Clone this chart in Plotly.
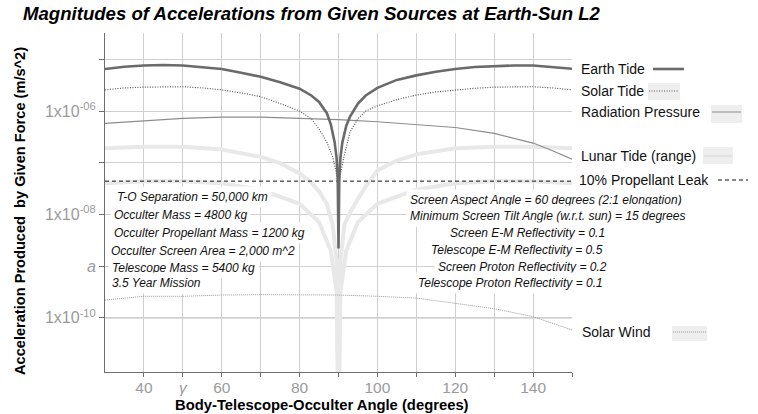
import plotly.graph_objects as go

# plot-area placement in pixels (758 x 414 canvas)
W, H = 758, 414
L, R, T, B = 105, 572, 33, 372

GRID = "#cfcfcf"
AXIS = "#6e6e6e"
TICK_TXT = "#9a9a9a"
EARTH = "#6a6a6a"
SOLAR = "#555555"
RAD = "#8c8c8c"
LUNAR = "#e8e8e8"
WIND = "#9a9a9a"
SAMPLE_BG = "#eeeeee"
FONT = "Arial, Liberation Sans, sans-serif"

# ---- data (acceleration, m/s^2) ----
earth_x = [30, 35, 40, 45, 50, 55, 60, 65, 70, 75, 80, 83, 85, 87, 88, 89, 89.5, 89.8, 90,
           90.2, 90.5, 91, 92, 93, 95, 97, 100, 105, 110, 115, 120, 125, 130, 135, 140, 145, 150]
earth_tide = [6.5e-6, 7.2e-6, 7.6e-6, 7.8e-6, 7.6e-6, 7.1e-6, 6.5e-6, 5.5e-6, 4.6e-6, 3.6e-6,
              2.7e-6, 2.0e-6, 1.5e-6, 9.1e-7, 5.6e-7, 2.5e-7, 1.26e-7, 5.0e-8, 2.2e-9,
              5.0e-8, 1.26e-7, 2.5e-7, 5.2e-7, 7.9e-7, 1.4e-6, 2.0e-6, 2.8e-6, 4.0e-6, 4.9e-6,
              5.75e-6, 6.5e-6, 7.1e-6, 7.4e-6, 7.6e-6, 7.6e-6, 7.2e-6, 6.6e-6]

solar_x = [30, 35, 40, 45, 50, 55, 60, 65, 70, 75, 80, 83, 85, 87, 88.5, 89.3, 90,
           90.7, 91.5, 93, 95, 97, 100, 105, 110, 115, 120, 125, 130, 135, 140, 145, 150]
solar_tide = [2.57e-6, 2.8e-6, 2.9e-6, 2.95e-6, 2.95e-6, 2.8e-6, 2.57e-6, 2.24e-6, 1.9e-6,
              1.4e-6, 1.0e-6, 7.1e-7, 4.5e-7, 2.5e-7, 1.3e-7, 7.1e-8, 3.5e-8,
              7.1e-8, 1.4e-7, 4.0e-7, 7.1e-7, 1.0e-6, 1.26e-6, 1.66e-6, 2.04e-6, 2.34e-6,
              2.57e-6, 2.75e-6, 2.9e-6, 2.95e-6, 2.95e-6, 2.8e-6, 2.57e-6]

rad_x = [30, 40, 50, 60, 70, 80, 90, 100, 110, 120, 130, 140, 145, 150]
rad_pressure = [5.75e-7, 6.5e-7, 7.2e-7, 7.6e-7, 7.6e-7, 7.2e-7, 6.8e-7, 6.2e-7, 5.5e-7,
                4.8e-7, 3.7e-7, 2.4e-7, 1.7e-7, 1.17e-7]

lunar_hi_x = [30, 40, 50, 60, 70, 75, 80, 83, 85, 87, 88.5, 89.5, 90,
              90.5, 91.5, 93, 95, 97, 100, 105, 110, 120, 130, 140, 150]
lunar_hi = [1.9e-7, 2.04e-7, 2.04e-7, 1.8e-7, 1.3e-7, 9.8e-8, 6.2e-8, 4.1e-8, 2.8e-8, 1.6e-8,
            6.3e-9, 1.26e-9, 1e-12, 1.26e-9, 6.3e-9, 1.1e-8, 2.0e-8, 3.5e-8, 7.1e-8, 1.1e-7,
            1.45e-7, 1.9e-7, 2.04e-7, 2.04e-7, 1.9e-7]

lunar_lo_x = [30, 40, 50, 60, 70, 80, 85, 88, 89.5, 90, 90.5, 92, 95, 100, 110, 120, 130, 140, 150]
lunar_lo = [4.0e-8, 4.4e-8, 4.4e-8, 4.0e-8, 3.0e-8, 1.6e-8, 7.1e-9, 2.0e-9, 3.2e-10, 1e-12,
            3.2e-10, 2.0e-9, 7.1e-9, 1.6e-8, 3.0e-8, 4.0e-8, 4.4e-8, 4.4e-8, 4.0e-8]

leak_x = [30, 150]
prop_leak = [4.4e-8, 4.4e-8]

wind_x = [30, 40, 50, 60, 70, 80, 90, 100, 110, 120, 130, 140, 150]
solar_wind = [2.2e-10, 2.6e-10, 2.6e-10, 2.75e-10, 2.8e-10, 2.8e-10, 2.75e-10, 2.6e-10,
              2.4e-10, 1.9e-10, 1.5e-10, 1.05e-10, 5.8e-11]

x_tickvals = [40, 50, 60, 70, 80, 90, 100, 110, 120, 130, 140, 150]
x_ticktext = ["40", "<i>γ</i>", "60", "", "80", "", "100", "", "120", "", "140", ""]
y_tickvals = [1e-10, 1e-9, 1e-8, 1e-7, 1e-6, 1e-5]
y_ticktext = ["1x10<sup>-10</sup>", "<i>a</i>", "1x10<sup>-08</sup>", "",
              "1x10<sup>-06</sup>", ""]

left_notes = [
    "T-O Separation = 50,000 km",
    "Occulter Mass = 4800 kg",
    "Occulter Propellant Mass = 1200 kg",
    "Occulter Screen Area = 2,000 m^2",
    "Telescope Mass = 5400 kg",
    "3.5 Year Mission",
]
right_notes = [
    "Screen Aspect Angle = 60 degrees (2:1 elongation)",
    "Minimum Screen Tilt Angle (w.r.t. sun) = 15 degrees",
    "Screen E-M Reflectivity = 0.1",
    "Telescope E-M Reflectivity = 0.5",
    "Screen Proton Reflectivity = 0.2",
    "Telescope Proton Reflectivity = 0.1",
]


def px(x):
    return (x - L) / (R - L)


def py(y):
    return (B - y) / (B - T)


fig = go.Figure()
fig.add_trace(go.Scatter(x=lunar_hi_x, y=lunar_hi, mode="lines",
                         line={"color": LUNAR, "width": 4}))
fig.add_trace(go.Scatter(x=lunar_lo_x, y=lunar_lo, mode="lines",
                         line={"color": LUNAR, "width": 4}))
fig.add_trace(go.Scatter(x=leak_x, y=prop_leak, mode="lines",
                         line={"color": "#111111", "width": 1, "dash": "4px,3px"}))
fig.add_trace(go.Scatter(x=wind_x, y=solar_wind, mode="lines",
                         line={"color": WIND, "width": 1, "dash": "1px,1px"}))
fig.add_trace(go.Scatter(x=rad_x, y=rad_pressure, mode="lines",
                         line={"color": RAD, "width": 1.2}))
fig.add_trace(go.Scatter(x=solar_x, y=solar_tide, mode="lines",
                         line={"color": SOLAR, "width": 1.2, "dash": "1px,1.5px"}))
fig.add_trace(go.Scatter(x=earth_x, y=earth_tide, mode="lines",
                         line={"color": EARTH, "width": 2.6}))

fig.add_hline(y=1e-10, line={"color": "#7a7a7a", "width": 1.2}, layer="below")

# parameter notes (white boxes hide the grid behind them, as in the original)
note_font = {"family": FONT, "size": 12, "color": "#111111"}
left_pos = [(113, 197), (110, 215), (110, 233), (107, 251), (108, 268), (108, 283)]
right_pos = [(406, 200), (406, 216), (446, 233), (427, 250), (434, 267), (414, 283)]
for txt, (xx, yy) in zip(left_notes + right_notes, left_pos + right_pos):
    fig.add_annotation(x=px(xx), y=py(yy), xref="paper", yref="paper", text=f"<i>{txt}</i>",
                       showarrow=False, xanchor="left", yanchor="middle", font=note_font,
                       bgcolor="white", borderpad=3)

# hand-made legend on the right
leg_font = {"family": FONT, "size": 14, "color": "#111111"}
legend_rows = [
    ("Earth Tide", 579, 69, None, (653, 684), {"color": EARTH, "width": 2.6}),
    ("Solar Tide", 579, 91, (648, 680, 83, 100), (649, 679), {"color": SOLAR, "width": 1, "dash": "1px,1.5px"}),
    ("Radiation Pressure", 579, 112, (711, 742, 105, 123), (712, 741), {"color": RAD, "width": 1}),
    ("Lunar Tide (range)", 579, 156, (703, 733, 147, 164), (704, 732), {"color": "#d8d8d8", "width": 1}),
    ("10% Propellant Leak", 577, 180, None, (718, 748), {"color": "#111111", "width": 1, "dash": "4px,3px"}),
    ("Solar Wind", 580, 332, (672, 707, 326, 341), (673, 706), {"color": WIND, "width": 1, "dash": "1px,1px"}),
]
for label, tx, ty, box, seg, style in legend_rows:
    fig.add_annotation(x=px(tx), y=py(ty), xref="paper", yref="paper", text=label,
                       showarrow=False, xanchor="left", yanchor="middle", font=leg_font)
    if box:
        fig.add_shape(type="rect", xref="paper", yref="paper", x0=px(box[0]), x1=px(box[1]),
                      y0=py(box[3]), y1=py(box[2]), fillcolor=SAMPLE_BG, line={"width": 0})
    fig.add_shape(type="line", xref="paper", yref="paper", x0=px(seg[0]), x1=px(seg[1]),
                  y0=py(ty), y1=py(ty), line=style)

# titles
fig.add_annotation(x=px(21), y=py(14), xref="paper", yref="paper",
                   text="<b><i>Magnitudes of Accelerations from Given Sources at Earth-Sun L2</i></b>",
                   showarrow=False, xanchor="left", yanchor="middle",
                   font={"family": FONT, "size": 18.6, "color": "#000000"})
fig.add_annotation(x=px(322), y=py(405), xref="paper", yref="paper",
                   text="<b>Body-Telescope-Occulter Angle (degrees)</b>",
                   showarrow=False, xanchor="center", yanchor="middle",
                   font={"family": FONT, "size": 14.8, "color": "#000000"})
fig.add_annotation(x=px(20), y=py(211), xref="paper", yref="paper",
                   text="<b>Acceleration Produced  by Given Force (m/s^2)</b>", textangle=-90,
                   showarrow=False, xanchor="center", yanchor="middle",
                   font={"family": FONT, "size": 14.6, "color": "#000000"})

fig.update_layout(
    width=W, height=H,
    margin={"l": L, "r": W - R, "t": T, "b": H - B},
    paper_bgcolor="white", plot_bgcolor="white",
    showlegend=False,
    font={"family": FONT},
)
fig.update_xaxes(range=[30, 150], tickvals=x_tickvals, ticktext=x_ticktext,
                 showgrid=True, gridcolor=GRID, gridwidth=1, zeroline=False,
                 showline=True, linecolor=AXIS, linewidth=1, ticks="outside", ticklen=4,
                 tickcolor=AXIS, ticklabelstandoff=-3,
                 tickfont={"size": 15.5, "color": TICK_TXT})
fig.update_yaxes(type="log", range=[-11.05, -4.49], tickvals=y_tickvals, ticktext=y_ticktext,
                 showgrid=True, gridcolor=GRID, gridwidth=1, zeroline=False,
                 showline=True, linecolor=AXIS, linewidth=1, ticks="outside", ticklen=5,
                 tickcolor=AXIS, tickfont={"size": 16, "color": TICK_TXT})

# drop the page's default body margin so the figure sits at the window's corner
fig.write_html("out.html", config={"displayModeBar": False},
               post_script="document.body.style.margin='0';")
